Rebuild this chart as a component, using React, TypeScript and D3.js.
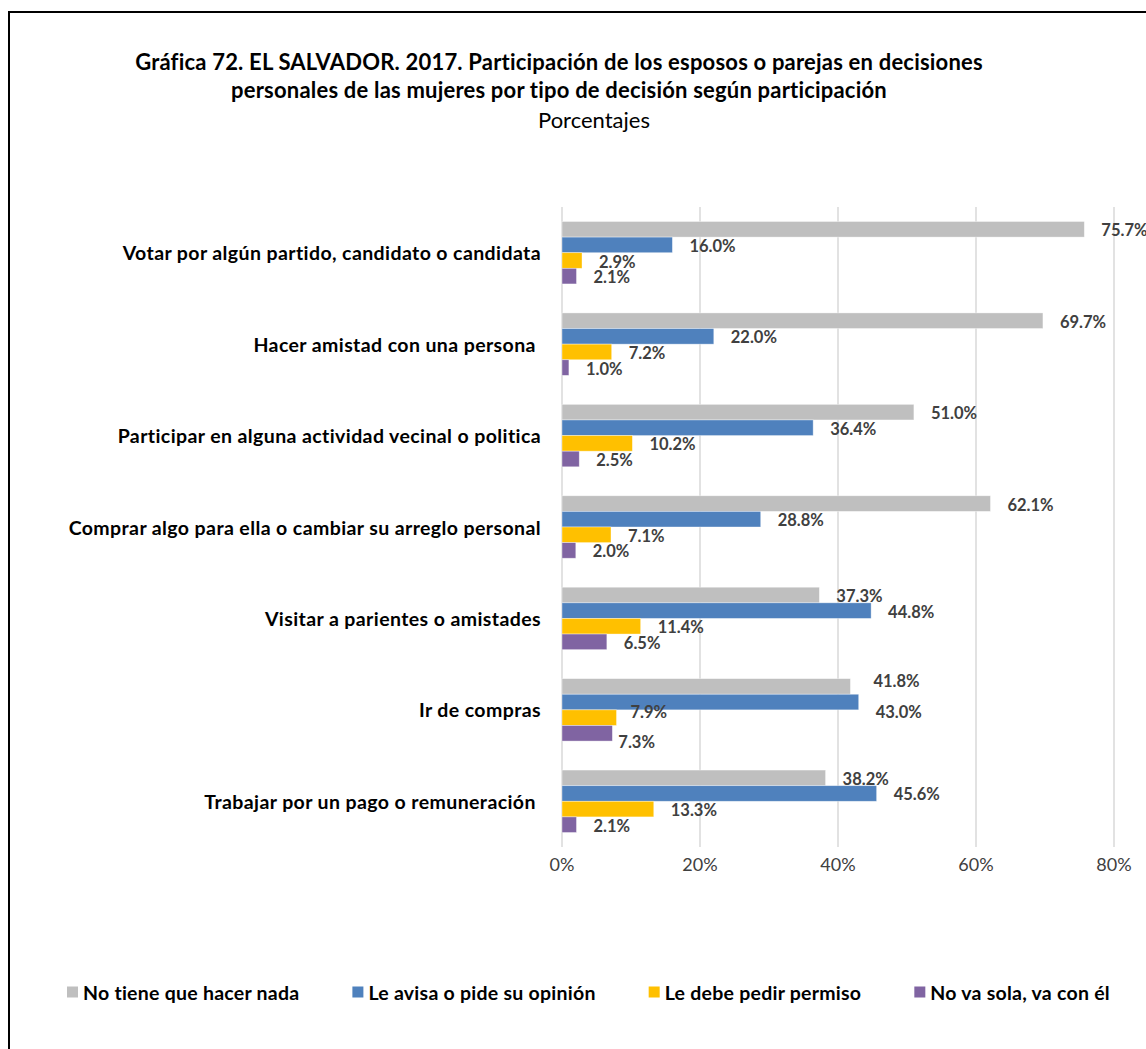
import React, { useEffect, useRef } from "react";
import * as d3 from "d3";

const categories = [
  "Votar por algún partido, candidato o candidata",
  "Hacer amistad con una persona ",
  "Participar en alguna actividad vecinal o politica",
  "Comprar algo para ella o cambiar su arreglo personal",
  "Visitar a parientes o amistades",
  "Ir de compras",
  "Trabajar por un pago o remuneración ",
];

const seriesNames = [
  "No tiene que hacer nada",
  "Le avisa o pide su opinión",
  "Le debe pedir permiso",
  "No va sola, va con él",
];
const seriesColors = ["#BFBFBF", "#4F81BD", "#FFC000", "#8064A2"];

const noTieneQueHacerNada = [75.7, 69.7, 51.0, 62.1, 37.3, 41.8, 38.2];
const leAvisaOPideSuOpinion = [16.0, 22.0, 36.4, 28.8, 44.8, 43.0, 45.6];
const leDebePedirPermiso = [2.9, 7.2, 10.2, 7.1, 11.4, 7.9, 13.3];
const noVaSolaVaConEl = [2.1, 1.0, 2.5, 2.0, 6.5, 7.3, 2.1];

const seriesValues = [
  noTieneQueHacerNada,
  leAvisaOPideSuOpinion,
  leDebePedirPermiso,
  noVaSolaVaConEl,
];

const xTicks = [0, 20, 40, 60, 80];
const xTickLabels = ["0%", "20%", "40%", "60%", "80%"];

const titleLines = [
  "Gráfica 72. EL SALVADOR. 2017. Participación de los esposos o parejas en decisiones",
  "personales de las mujeres por tipo de decisión según participación",
];
const subtitle = "Porcentajes";

const FONT = "Lato, 'Open Sans', sans-serif";

export default function App() {
  const ref = useRef<SVGSVGElement>(null);

  useEffect(() => {
    const svg = d3.select(ref.current);
    svg.selectAll("*").remove();

    svg.append("rect").attr("x", 0).attr("y", 0).attr("width", 1146).attr("height", 1049).attr("fill", "#fff");
    // chart border
    svg
      .append("rect")
      .attr("x", 9)
      .attr("y", 12)
      .attr("width", 1300)
      .attr("height", 1200)
      .attr("fill", "none")
      .attr("stroke", "#000")
      .attr("stroke-width", 2);

    // title
    const title = svg.append("g").attr("font-family", FONT).attr("fill", "#000");
    titleLines.forEach((t, i) => {
      title
        .append("text")
        .attr("x", 559)
        .attr("y", 61 + i * 28)
        .attr("text-anchor", "middle")
        .attr("dominant-baseline", "central")
        .attr("font-weight", 700)
        .attr("font-size", 22)
        .attr("letter-spacing", 0.2)
        .text(t);
    });
    title
      .append("text")
      .attr("x", 594)
      .attr("y", 119)
      .attr("text-anchor", "middle")
      .attr("dominant-baseline", "central")
      .attr("font-size", 22)
      .text(subtitle);

    const x = d3.scaleLinear().domain([0, 80]).range([562, 1114]);
    const y = d3
      .scaleBand<string>()
      .domain(categories)
      .range([207, 847])
      .paddingInner(0.317)
      .paddingOuter(0.1585);
    const ySub = d3.scaleBand<string>().domain(seriesNames).range([0, y.bandwidth()]);

    // gridlines
    svg
      .append("g")
      .selectAll("line")
      .data(xTicks)
      .join("line")
      .attr("x1", (d) => x(d))
      .attr("x2", (d) => x(d))
      .attr("y1", 207)
      .attr("y2", 847)
      .attr("stroke", "#D9D9D9")
      .attr("stroke-width", 1.5);

    // tick labels
    svg
      .append("g")
      .attr("font-family", FONT)
      .attr("font-size", 18)
      .attr("fill", "#404040")
      .selectAll("text")
      .data(xTicks)
      .join("text")
      .attr("x", (d) => x(d))
      .attr("y", 864)
      .attr("text-anchor", "middle")
      .attr("dominant-baseline", "central")
      .text((d, i) => xTickLabels[i]);

    // category labels
    svg
      .append("g")
      .attr("font-family", FONT)
      .attr("font-size", 19.5)
      .attr("letter-spacing", 0.4)
      .attr("font-weight", 700)
      .attr("fill", "#000")
      .selectAll("text")
      .data(categories)
      .join("text")
      .attr("x", 541)
      .attr("y", (d) => (y(d) as number) + y.bandwidth() / 2)
      .attr("text-anchor", "end")
      .attr("dominant-baseline", "central")
      .style("white-space", "pre")
      .text((d) => d);

    // bars
    const nudges: Record<string, [number, number]> = {
      "5-0": [6, -6],
      "5-1": [0, 9],
      "5-2": [-3, -7],
      "5-3": [-11, 8],
    };

    const flat = categories.flatMap((c, ci) =>
      seriesNames.map((s, si) => ({ c, ci, s, si, v: seriesValues[si][ci] }))
    );

    svg
      .append("g")
      .selectAll("rect")
      .data(flat)
      .join("rect")
      .attr("x", x(0))
      .attr("y", (d) => (y(d.c) as number) + (ySub(d.s) as number))
      .attr("width", (d) => x(d.v) - x(0))
      .attr("height", ySub.bandwidth())
      .attr("fill", (d) => seriesColors[d.si])
      .attr("stroke", "#fff")
      .attr("stroke-opacity", 0.5)
      .attr("stroke-width", 0.75);

    svg
      .append("g")
      .attr("font-family", FONT)
      .attr("font-size", 16.5)
      .attr("font-weight", 700)
      .attr("fill", "#404040")
      .selectAll("text")
      .data(flat)
      .join("text")
      .attr("x", (d) => x(d.v) + 17 + (nudges[`${d.ci}-${d.si}`]?.[0] ?? 0))
      .attr(
        "y",
        (d) =>
          (y(d.c) as number) +
          (ySub(d.s) as number) +
          ySub.bandwidth() / 2 +
          1 +
          (nudges[`${d.ci}-${d.si}`]?.[1] ?? 0)
      )
      .attr("dominant-baseline", "central")
      .text((d) => d3.format(".1f")(d.v) + "%");

    // legend
    const legend = svg
      .append("g")
      .attr("font-family", FONT)
      .attr("font-size", 19.5)
      .attr("letter-spacing", 0.25)
      .attr("font-weight", 700)
      .attr("fill", "#000");
    let lx = 67;
    const ly = 992;
    seriesNames.forEach((name, i) => {
      legend
        .append("rect")
        .attr("x", lx)
        .attr("y", ly - 5.5)
        .attr("width", 11)
        .attr("height", 11)
        .attr("fill", seriesColors[i]);
      const t = legend
        .append("text")
        .attr("x", lx + 16)
        .attr("y", ly)
        .attr("dominant-baseline", "central")
        .text(name);
      const w = (t.node() as SVGTextElement).getComputedTextLength();
      lx = lx + 16 + w + 53;
    });
  }, []);

  return (
    <svg
      ref={ref}
      width={1146}
      height={1049}
      style={{ position: "absolute", left: 0, top: 0, display: "block" }}
    />
  );
}
